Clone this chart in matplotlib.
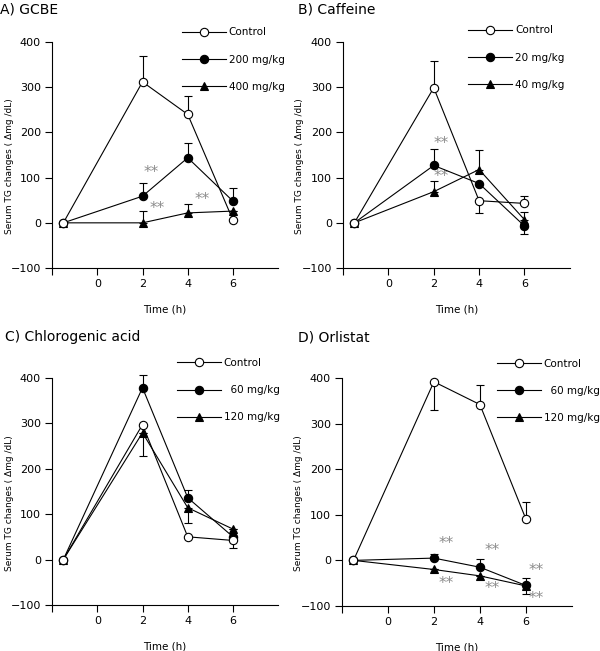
import matplotlib
matplotlib.use("Agg")
import matplotlib.pyplot as plt
from matplotlib.lines import Line2D

# sampling times (h); the baseline point sits just left of 0
time_h = [-1.5, 2, 4, 6]

# A) GCBE
a_labels = ["Control", "200 mg/kg", "400 mg/kg"]
a_ctrl = [0, 312, 240, 6]
a_ctrl_err = [0, 57, 40, 0]
a_low = [0, 59, 144, 48]
a_low_err = [0, 30, 32, 29]
a_high = [0, 0, 22, 26]
a_high_err = [0, 26, 19, 0]
a_stars = [(2.37, 112), (2.67, 31), (4.64, 52)]

# B) Caffeine
b_labels = ["Control", "20 mg/kg", "40 mg/kg"]
b_ctrl = [0, 299, 49, 43]
b_ctrl_err = [0, 60, -27, 17]
b_low = [0, 127, 87, -7]
b_low_err = [0, 37, 0, -17]
b_high = [0, 69, 118, 7]
b_high_err = [0, 23, 43, 17]
b_stars = [(2.33, 176), (2.33, 102)]

# C) Chlorogenic acid
c_labels = ["Control", "  60 mg/kg", "120 mg/kg"]
c_ctrl = [0, 297, 50, 42]
c_ctrl_err = [0, -70, 0, -16]
c_low = [0, 378, 136, 50]
c_low_err = [0, 29, 17, 0]
c_high = [0, 279, 114, 67]
c_high_err = [0, 0, -34, 0]
c_stars = []

# D) Orlistat
d_labels = ["Control", "  60 mg/kg", "120 mg/kg"]
d_ctrl = [0, 392, 342, 91]
d_ctrl_err = [0, -62, 43, 37]
d_low = [0, 5, -15, -55]
d_low_err = [0, 10, 19, 17]
d_high = [0, -20, -34, -56]
d_high_err = [0, 0, 0, -17]
d_stars = [(2.53, 38), (4.53, 22), (6.47, -22),
           (2.53, -51), (4.53, -62), (6.47, -84)]

x_ticks = [-2, 0, 2, 4, 6]
x_tick_labels = ["", "0", "2", "4", "6"]
y_ticks = [-100, 0, 100, 200, 300, 400]

STYLES = [dict(marker="o", mfc="white"),
          dict(marker="o", mfc="black"),
          dict(marker="^", mfc="black")]


def one_sided(err):
    # positive -> bar drawn upward, negative -> downward
    lower = [-e if e < 0 else 0 for e in err]
    upper = [e if e > 0 else 0 for e in err]
    return [lower, upper]


def draw_panel(ax, title, title_xy, labels, series, stars, legend_xy):
    # treatments first, control on top
    for i in [1, 2, 0]:
        vals, err = series[i]
        ax.errorbar(time_h, vals, yerr=one_sided(err), color="black",
                    lw=0.8, elinewidth=0.8, capsize=3, capthick=0.8,
                    mec="black", ms=6, mew=0.8, clip_on=False,
                    zorder=3 + (i == 0), **STYLES[i])
    for sx, sy in stars:
        ax.text(sx, sy, "**", color="#8c8c8c", fontsize=11,
                ha="center", va="center")

    ax.set_xlim(-2, 8)
    ax.set_ylim(-100, 400)
    ax.set_xticks(x_ticks)
    ax.set_xticklabels(x_tick_labels)
    ax.set_yticks(y_ticks)
    ax.spines["top"].set_visible(False)
    ax.spines["right"].set_visible(False)
    ax.spines["left"].set_linewidth(0.8)
    ax.spines["bottom"].set_linewidth(0.8)
    ax.tick_params(direction="out", length=5, width=0.8, labelsize=8, pad=3)
    ax.set_xlabel("Time (h)", fontsize=7.5, labelpad=11)
    ax.set_ylabel("Serum TG changes ( Δmg /dL)", fontsize=6.5)
    ax.yaxis.set_label_coords(-0.17, 0.45)

    handles = [Line2D([], [], color="black", lw=0.8, mec="black", ms=6,
                      mew=0.8, **st) for st in STYLES]
    ax.legend(handles, labels, loc="upper left",
              bbox_to_anchor=legend_xy, bbox_transform=fig.transFigure,
              frameon=False, fontsize=7.5, handlelength=4.2,
              handletextpad=0.3, labelspacing=1.65, borderpad=0,
              borderaxespad=0)
    fig.text(title_xy[0], title_xy[1], title, fontsize=10, ha="left", va="center")


fig = plt.figure(figsize=(6, 6.51), dpi=100)
ax_a = fig.add_axes([0.0867, 0.5883, 0.377, 0.347])
ax_b = fig.add_axes([0.5717, 0.5883, 0.378, 0.347])
ax_c = fig.add_axes([0.0867, 0.0707, 0.377, 0.349])
ax_d = fig.add_axes([0.5700, 0.0692, 0.383, 0.350])

draw_panel(ax_a, "A) GCBE", (0.0, 0.985), a_labels,
           [(a_ctrl, a_ctrl_err), (a_low, a_low_err), (a_high, a_high_err)],
           a_stars, (0.303, 0.958))
draw_panel(ax_b, "B) Caffeine", (0.497, 0.985), b_labels,
           [(b_ctrl, b_ctrl_err), (b_low, b_low_err), (b_high, b_high_err)],
           b_stars, (0.780, 0.961))
draw_panel(ax_c, "C) Chlorogenic acid", (0.008, 0.482), c_labels,
           [(c_ctrl, c_ctrl_err), (c_low, c_low_err), (c_high, c_high_err)],
           c_stars, (0.295, 0.450))
draw_panel(ax_d, "D) Orlistat", (0.497, 0.482), d_labels,
           [(d_ctrl, d_ctrl_err), (d_low, d_low_err), (d_high, d_high_err)],
           d_stars, (0.828, 0.449))

fig.savefig("out.png", dpi=100)
